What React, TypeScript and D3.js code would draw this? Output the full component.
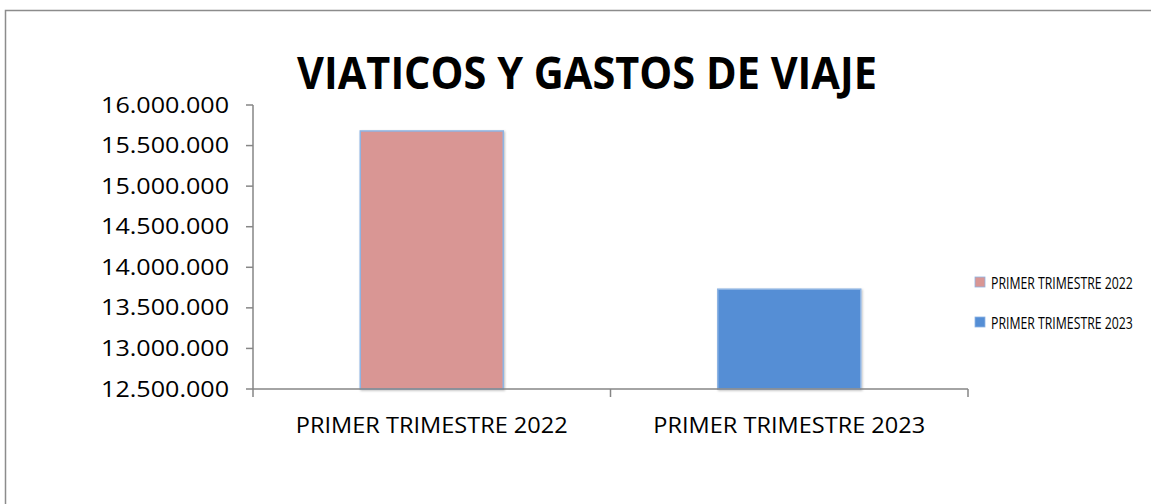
import React from "react";
import * as d3 from "d3";

const categories = ["PRIMER TRIMESTRE 2022", "PRIMER TRIMESTRE 2023"];
const values = [15680000, 13730000];
const colors = ["#d99694", "#558ed5"];
const yTicks = [12500000, 13000000, 13500000, 14000000, 14500000, 15000000, 15500000, 16000000];
const title = "VIATICOS Y GASTOS DE VIAJE";

const fmt = (v: number) => d3.format(",")(v).replace(/,/g, ".");
const FONT = "'Open Sans', 'Noto Sans', sans-serif";

let ctx: CanvasRenderingContext2D | null = null;
function measure(text: string, size: number, weight: number) {
  if (!ctx) ctx = document.createElement("canvas").getContext("2d");
  if (!ctx) return text.length * size * 0.6;
  ctx.font = `${weight} ${size}px 'Open Sans', 'Noto Sans', sans-serif`;
  return ctx.measureText(text).width;
}

function FitText(props: { text: string; x: number; y: number; size: number; width: number; anchor: "start" | "middle" | "end"; weight?: number }) {
  const { text, x, y, size, width, anchor } = props;
  const weight = props.weight ?? 400;
  const natural = measure(text, size, weight);
  const s = width / natural;
  return (
    <text transform={`translate(${x},${y}) scale(${s},1)`} textAnchor={anchor} fontFamily={FONT}
      fontSize={size} fontWeight={weight} fill="#000">{text}</text>
  );
}

export default function App() {
  const W = 1151, H = 504;
  const left = 253, right = 968, top = 105, bottom = 389;
  const x = d3.scaleBand().domain(categories).range([left, right]).paddingInner(0.6).paddingOuter(0.3);
  const xOuter = d3.scaleBand().domain(categories).range([left, right]);
  const y = d3.scaleLinear().domain([12500000, 16000000]).range([bottom, top]);
  const axisColor = "#868686";
  return (
    <svg width={W} height={H} style={{ position: "absolute", left: 0, top: 0, background: "#fff" }}>
      <defs>
        <filter id="sh" x="-10%" y="-10%" width="120%" height="120%">
          <feDropShadow dx="1" dy="1" stdDeviation="1.2" floodColor="#000" floodOpacity="0.25" />
        </filter>
      </defs>
      <rect x={0} y={0} width={W} height={H} fill="#fff" />
      <path d={`M5.5,${H + 2} V10.5 H${W + 2}`} fill="none" stroke="#8c8c8c" strokeWidth={1.5} />
      <FitText text={title} x={587} y={89} anchor="middle" size={44} weight={700} width={580} />
      {categories.map((c, i) => (
        <rect key={c} x={x(c)!} y={y(values[i])} width={x.bandwidth()} height={bottom - y(values[i])}
          fill={colors[i]} stroke="#8eb4e3" strokeWidth={1.5} filter="url(#sh)" />
      ))}
      <line x1={left} x2={left} y1={top} y2={bottom} stroke={axisColor} strokeWidth={1.5} />
      {yTicks.map(t => (
        <g key={t}>
          <line x1={left - 7} x2={left} y1={y(t)} y2={y(t)} stroke={axisColor} strokeWidth={1.5} />
          <FitText text={fmt(t)} x={229} y={y(t) + 7.5} anchor="end" size={21} width={128} />
        </g>
      ))}
      <line x1={left} x2={right} y1={bottom} y2={bottom} stroke={axisColor} strokeWidth={1.5} />
      {[...categories.map(c => xOuter(c)!), right].map((p, i) => (
        <line key={i} x1={p} x2={p} y1={bottom} y2={bottom + 8} stroke={axisColor} strokeWidth={1.5} />
      ))}
      {categories.map(c => (
        <FitText key={c} text={c} x={xOuter(c)! + xOuter.bandwidth() / 2} y={433} anchor="middle" size={21} width={272} />
      ))}
      {categories.map((c, i) => (
        <g key={c}>
          <rect x={975} y={277 + i * 40} width={10} height={10} fill={colors[i]} stroke="#8eb4e3" strokeWidth={0.8} />
          <FitText text={c} x={991} y={288.5 + i * 40} anchor="start" size={16} width={142} />
        </g>
      ))}
    </svg>
  );
}
